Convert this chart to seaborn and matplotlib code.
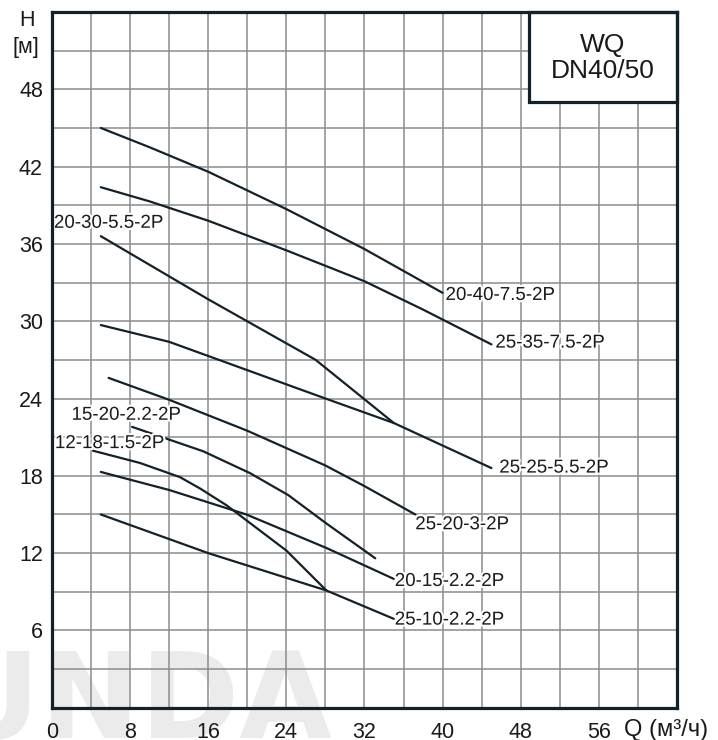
import numpy as np
import pandas as pd
import seaborn as sns
import matplotlib.pyplot as plt
import matplotlib.patheffects as pe
from matplotlib.patches import Rectangle

# =========================
# Pump curves  (Q in m3/h, H in m)
# =========================
q_20_40 = [5, 10, 16, 24, 32, 40]
h_20_40 = [45.0, 43.5, 41.6, 38.7, 35.6, 32.2]

q_25_35 = [5, 10, 16, 24, 32, 38, 45]
h_25_35 = [40.4, 39.3, 37.8, 35.5, 33.1, 30.9, 28.2]

q_20_30 = [5, 16, 27, 35]
h_20_30 = [36.6, 31.7, 27.0, 22.1]

q_25_25 = [5, 12, 20, 28, 35, 45]
h_25_25 = [29.7, 28.4, 26.2, 24.0, 22.1, 18.6]

q_25_20 = [5.8, 12, 20, 28, 32, 37.2]
h_25_20 = [25.6, 23.9, 21.5, 18.8, 17.2, 15.0]

q_15_20 = [8.2, 15.5, 20.3, 24.2, 28.1, 33.1]
h_15_20 = [21.8, 19.9, 18.2, 16.5, 14.3, 11.6]

q_12_18 = [4.2, 9, 13.1, 15.2, 17.9, 24, 28.1]
h_12_18 = [19.95, 19.0, 17.9, 17.0, 15.7, 12.2, 9.1]

q_20_15 = [5, 12, 19.9, 28.1, 35]
h_20_15 = [18.3, 16.9, 15.0, 12.4, 10.0]

q_25_10 = [5, 16, 28.1, 35]
h_25_10 = [15.0, 12.0, 9.1, 6.9]

pumps = ["20-40-7.5-2P", "25-35-7.5-2P", "20-30-5.5-2P", "25-25-5.5-2P",
         "25-20-3-2P", "15-20-2.2-2P", "12-18-1.5-2P", "20-15-2.2-2P",
         "25-10-2.2-2P"]
curves = [(q_20_40, h_20_40), (q_25_35, h_25_35), (q_20_30, h_20_30),
          (q_25_25, h_25_25), (q_25_20, h_25_20), (q_15_20, h_15_20),
          (q_12_18, h_12_18), (q_20_15, h_20_15), (q_25_10, h_25_10)]

# where each curve name sits (data coords)
label_pos = [(40.3, 32.0), (45.4, 28.3), (0.2, 37.6), (45.8, 18.6),
             (37.2, 14.2), (2.0, 22.7), (0.3, 20.5), (35.1, 9.8),
             (35.1, 6.8)]

x_ticks = np.arange(0, 65, 4)
y_ticks = np.arange(0, 55, 3)

rows = []
for name, (q, h) in zip(pumps, curves):
    for a, b in zip(q, h):
        rows.append({"pump": name, "Q": a, "H": b})
df = pd.DataFrame(rows)

# =========================
# Style
# =========================
sns.set_style("white")
plt.rcParams['font.family'] = ['Liberation Sans', 'DejaVu Sans']

dark = '#13212a'
txt = '#1a1a1a'

fig = plt.figure(figsize=(7.18, 7.40), dpi=100)

# faint logo watermark behind everything
fig.text(-0.08, 0.003, "UNDA", fontsize=86, fontweight='bold',
         family='DejaVu Sans', color='#ebebeb', ha='left', va='baseline',
         zorder=-1)

ax = fig.add_axes([0.0724, 0.0436, 0.8705, 0.9402])
ax.patch.set_alpha(0)

sns.lineplot(data=df, x="Q", y="H", units="pump", estimator=None, sort=False,
             color=dark, linewidth=1.6, ax=ax, zorder=3)

ax.set_xlim(0, 64)
ax.set_ylim(0, 54)
ax.set_xticks(x_ticks)
ax.set_yticks(y_ticks)
ax.set_xticklabels([str(v) if v % 8 == 0 and v < 64 else "" for v in x_ticks])
ax.set_yticklabels([str(v) if v % 6 == 0 and 0 < v < 54 else "" for v in y_ticks])
ax.set_xlabel("")
ax.set_ylabel("")
ax.grid(True, color='#8c8c8c', linewidth=1.1)
ax.set_axisbelow(True)
ax.tick_params(axis='both', length=0, labelsize=15.5, colors=txt)
ax.tick_params(axis='x', pad=10)
ax.tick_params(axis='y', pad=6.5)

for s in ax.spines.values():
    s.set_linewidth(2.3)
    s.set_color(dark)
    s.set_zorder(6)

# curve names
for name, (lx, ly) in zip(pumps, label_pos):
    ax.text(lx, ly, name, fontsize=13.5, color=txt, ha='left', va='center',
            zorder=4,
            path_effects=[pe.withStroke(linewidth=3, foreground='white')])

# title box, top right
ax.add_patch(Rectangle((48.8, 47.0), 64 - 48.8, 54 - 47.0, facecolor='white',
                       edgecolor=dark, linewidth=2.3, zorder=5, clip_on=False))
ax.text(56.4, 50.45, "WQ\nDN40/50", fontsize=19, color=txt, ha='center',
        va='center', linespacing=1.1, zorder=7)

# axis titles
fig.text(27 / 718, 1 - 20 / 740, "H", fontsize=15.5, color=txt,
         ha='center', va='center')
fig.text(26 / 718, 1 - 48 / 740, "[м]", fontsize=15.5, color=txt,
         ha='center', va='center')
fig.text(624 / 718, 1 - 730 / 740, "Q (м³/ч)", fontsize=17, color=txt,
         ha='left', va='center')

fig.savefig("out.png", dpi=100)
plt.close(fig)
